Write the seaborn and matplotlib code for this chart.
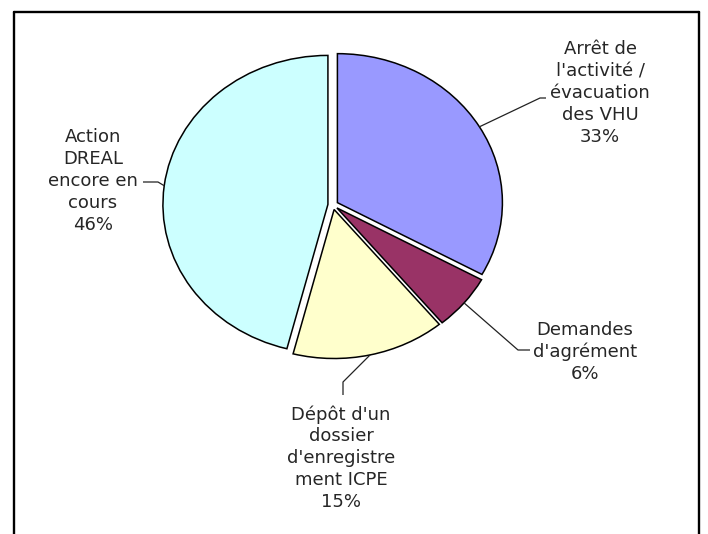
import numpy as np
import matplotlib
matplotlib.use("Agg")
import matplotlib.pyplot as plt
import seaborn as sns
from matplotlib.lines import Line2D

# ---- data ----
categories = ["Arrêt de\nl'activité /\névacuation\ndes VHU",
              "Demandes\nd'agrément",
              "Dépôt d'un\ndossier\nd'enregistre\nment ICPE",
              "Action\nDREAL\nencore en\ncours"]
shares = [33, 6, 15, 46]
colors = ["#9999FF", "#993366", "#FFFFCC", "#CCFFFF"]

# ---- layout (pixels) ----
W, H = 708, 534
cx, cy, rx, ry = 333, 205, 165, 149
explode = 0.031
label_centers = [(600, 93), (585, 352), (341, 458), (93, 181)]
leader_elbows = [[(540, 98), (546, 98)],
                 [(518, 350), (530, 350)],
                 [(343, 382), (343, 395)],
                 [(158, 182), (143, 182)]]

sns.set_theme(style="white")
plt.rcParams['font.family'] = ['DejaVu Sans']

fig = plt.figure(figsize=(W / 100, H / 100), dpi=100)
fig.patch.set_facecolor("white")
ax = fig.add_axes([0, 0, 1, 1])

pal = sns.color_palette(colors)
wedges, _ = ax.pie(shares, colors=pal, startangle=90, counterclock=False,
                   explode=[explode] * len(shares),
                   wedgeprops=dict(edgecolor="black", linewidth=1.1))
ax.set_aspect("auto")
ax.set_xlim(-cx / rx, (W - cx) / rx)
ax.set_ylim((cy - H) / ry, cy / ry)
ax.axis("off")


def P(x, y):
    return ((x - cx) / rx, (cy - y) / ry)


for w, lab, v, c, elb in zip(wedges, categories, shares, label_centers, leader_elbows):
    mid = np.deg2rad((w.theta1 + w.theta2) / 2)
    r = 1 + explode
    ax_pts = [(r * np.cos(mid), r * np.sin(mid))] + [P(*e) for e in elb]
    xs, ys = zip(*ax_pts)
    ax.plot(xs, ys, color="#222222", lw=0.9, solid_capstyle="butt")
    tx, ty = P(*c)
    ax.text(tx, ty, f"{lab}\n{v}%", ha="center", va="center", fontsize=13,
            linespacing=1.27, color="#262626")

# chart border (left, top, right)
bl, bt, br = 13.5, 12, 699
for xs, ys in [([bl, bl], [H + 5, bt]), ([bl, br], [bt, bt]), ([br, br], [bt, H + 5])]:
    fig.add_artist(Line2D([x / W for x in xs], [1 - y / H for y in ys],
                          transform=fig.transFigure, color="black", lw=1.7))

fig.savefig("out.png", dpi=100, facecolor="white")
